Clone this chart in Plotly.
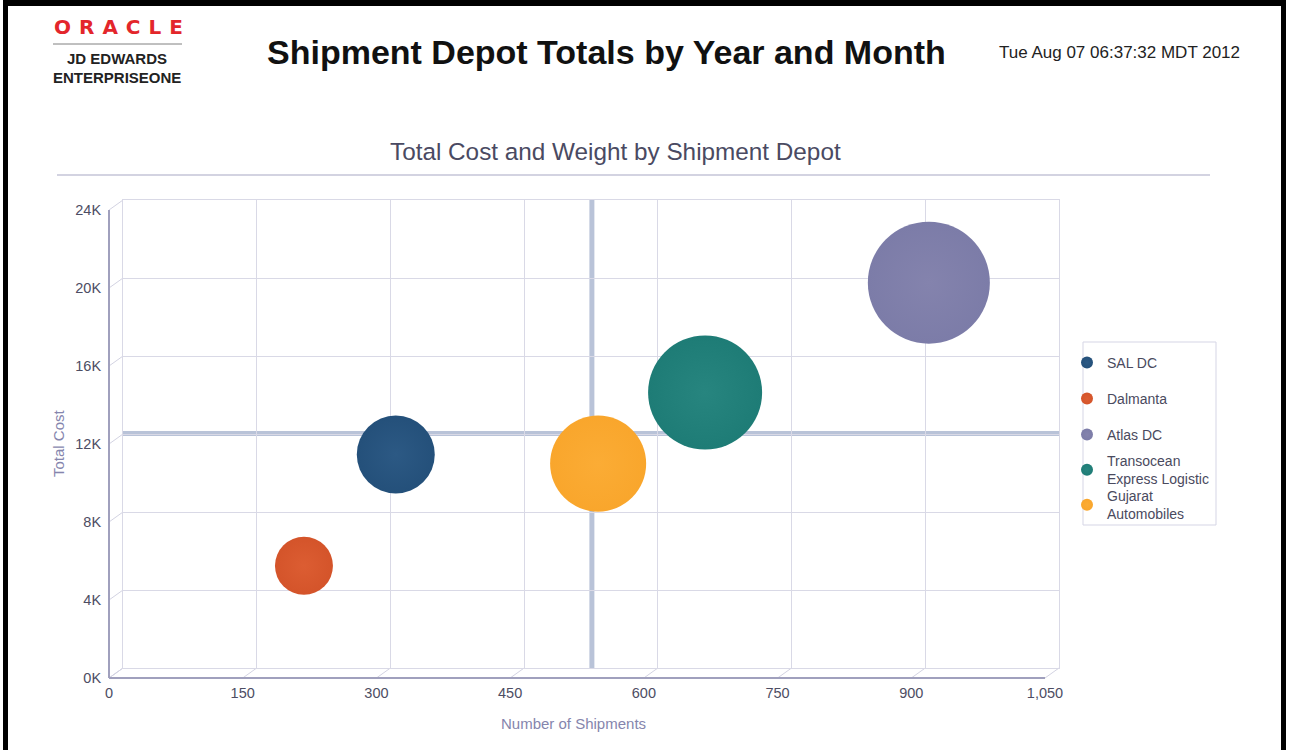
import plotly.graph_objects as go

# Depot data
depots = ["SAL DC", "Dalmanta", "Atlas DC", "Transocean<br>Express Logistic", "Gujarat<br>Automobiles"]
shipments = [306, 203, 904, 653, 533]
total_cost = [10950, 5240, 19760, 14130, 10480]
total_weight = [6080, 3360, 14880, 13000, 9220]
colors = ["#24507a", "#d4542a", "#7c7ca8", "#1e7c76", "#f9a62c"]
centers = ["#2c5984", "#dc5d32", "#8483ad", "#27857f", "#fbac35"]

x_ticks = [0, 150, 300, 450, 600, 750, 900, 1050]
y_ticks = [0, 4000, 8000, 12000, 16000, 20000, 24000]
y_tick_text = ["0K", "4K", "8K", "12K", "16K", "20K", "24K"]

avg_shipments = 526
avg_cost = 12030

X_MAX = 1050
Y_MAX = 24000

W, H = 1290, 750
L, R, T, B = 123, 231, 200, 82
PW, PH = W - L - R, H - T - B

# pseudo-3D offset of the front axes, in pixels
DXP, DYP = 14, 10
DX, DY = DXP / PW, DYP / PH

FONT = "Liberation Sans, Arial, sans-serif"


def px(x):
    return (x - L) / PW


def py(y):
    return (H - B - y) / PH


fig = go.Figure()

# legend slot centres (pixels), one small legend per depot
legend_rows = [363, 399, 435, 470, 505]
legend_ids = ["legend", "legend2", "legend3", "legend4", "legend5"]

max_d = 122
sizeref = 2.0 * max(total_weight) / (max_d ** 2)
for name, xv, yv, wv, col, cen, lid in zip(depots, shipments, total_cost, total_weight, colors, centers, legend_ids):
    fig.add_trace(
        go.Scatter(
            x=[xv],
            y=[yv],
            name=name,
            legend=lid,
            mode="markers",
            marker=dict(
                size=[wv],
                sizemode="area",
                sizeref=sizeref,
                color=col,
                opacity=1,
                gradient=dict(type="radial", color=cen),
                line=dict(width=0),
            ),
            cliponaxis=False,
        )
    )

shapes = []
# outer frame
black = dict(type="rect", xref="paper", yref="paper", fillcolor="black", line=dict(width=0), layer="above")
shapes.append(dict(black, x0=px(3), x1=px(8), y0=py(750), y1=py(0)))
shapes.append(dict(black, x0=px(3), x1=px(1286), y0=py(6), y1=py(0)))
shapes.append(dict(black, x0=px(1281), x1=px(1286), y0=py(750), y1=py(0)))
# logo rule and subtitle rule
shapes.append(dict(type="line", xref="paper", yref="paper", x0=px(53), x1=px(182), y0=py(44), y1=py(44),
                   line=dict(color="#808080", width=1)))
shapes.append(dict(type="line", xref="paper", yref="paper", x0=px(57), x1=px(1210), y0=py(175), y1=py(175),
                   line=dict(color="#d3d3e1", width=2)))
# legend box
shapes.append(dict(type="rect", xref="paper", yref="paper", x0=px(1083), x1=px(1216), y0=py(525), y1=py(342),
                   line=dict(color="#d5d5e5", width=1), fillcolor="rgba(0,0,0,0)"))
# quadrant lines at the averages
shapes.append(dict(type="line", xref="x", yref="paper", x0=avg_shipments, x1=avg_shipments, y0=0, y1=1,
                   line=dict(color="#b9c3d8", width=5), layer="between"))
shapes.append(dict(type="line", xref="paper", yref="y", x0=0, x1=1, y0=avg_cost, y1=avg_cost,
                   line=dict(color="#b9c3d8", width=5), layer="between"))
# front axes
axis_col = "#a0a0bd"
shapes.append(dict(type="line", xref="paper", yref="paper", x0=-DX, x1=-DX, y0=-DY, y1=1 - DY,
                   line=dict(color=axis_col, width=2)))
shapes.append(dict(type="line", xref="paper", yref="paper", x0=-DX, x1=1 - DX, y0=-DY, y1=-DY,
                   line=dict(color=axis_col, width=2)))
# connectors from front axes to back plane
conn = "#d3d3e2"
for v in x_ticks:
    f = v / X_MAX
    shapes.append(dict(type="line", xref="paper", yref="paper", x0=f - DX, x1=f, y0=-DY, y1=0,
                       line=dict(color=conn, width=1), layer="below"))
for v in y_ticks:
    f = v / Y_MAX
    shapes.append(dict(type="line", xref="paper", yref="paper", x0=-DX, x1=0, y0=f - DY, y1=f,
                       line=dict(color=conn, width=1), layer="below"))

annotations = [
    dict(text="Shipment Depot Totals by Year and Month", x=px(606), y=py(52),
         font=dict(family=FONT, size=34, color="#111111", weight="bold")),
    dict(text="Tue Aug 07 06:37:32 MDT 2012", x=px(1242), y=py(52), xanchor="right",
         font=dict(family=FONT, size=17, color="#222222")),
    dict(text="O\u2009\u2009R\u2009\u2009A\u2009\u2009C\u2009\u2009L\u2009\u2009E", x=px(118), y=py(27),
         font=dict(family="DejaVu Sans, sans-serif", size=20, color="#e3262b", weight="bold")),
    dict(text="JD EDWARDS", x=px(117), y=py(59),
         font=dict(family=FONT, size=15, color="#222222", weight="bold")),
    dict(text="ENTERPRISEONE", x=px(117), y=py(77),
         font=dict(family=FONT, size=15, color="#222222", weight="bold")),
    dict(text="Total Cost and Weight by Shipment Depot", x=px(615), y=py(152),
         font=dict(family=FONT, size=24.3, color="#4a4a62")),
    dict(text="Number of Shipments", x=px(573), y=py(723),
         font=dict(family=FONT, size=15, color="#8585ad")),
    dict(text="Total Cost", x=px(58), y=py(443), textangle=-90,
         font=dict(family=FONT, size=15, color="#8585ad")),
]
for a in annotations:
    a.update(xref="paper", yref="paper", showarrow=False)
    a.setdefault("xanchor", "center")
    a.setdefault("yanchor", "middle")

tick_font = dict(family=FONT, size=14.5, color="#4d4d63")
grid_col = "#d9d9e6"

legend_font = dict(family=FONT, size=14, color="#4a4a5e")
legends = {}
for lid, row in zip(legend_ids, legend_rows):
    legends[lid] = dict(
        x=px(1067),
        y=py(row),
        xanchor="left",
        yanchor="middle",
        font=legend_font,
        bgcolor="rgba(0,0,0,0)",
        borderwidth=0,
        itemsizing="constant",
    )

fig.update_layout(
    width=W,
    height=H,
    margin=dict(l=L, r=R, t=T, b=B),
    paper_bgcolor="white",
    plot_bgcolor="white",
    shapes=shapes,
    annotations=annotations,
    showlegend=True,
    **legends,
)
fig.update_xaxes(
    range=[0, X_MAX],
    tickvals=x_ticks,
    tickformat=",",
    ticks="",
    ticklabelshift=-DXP,
    ticklabelstandoff=12,
    tickfont=tick_font,
    showgrid=True,
    gridcolor=grid_col,
    zeroline=False,
    showline=True,
    linecolor=grid_col,
    mirror=True,
    fixedrange=True,
)
fig.update_yaxes(
    range=[0, Y_MAX],
    tickvals=y_ticks,
    ticktext=y_tick_text,
    ticks="",
    ticklabelshift=DYP,
    ticklabelstandoff=18,
    tickfont=tick_font,
    showgrid=True,
    gridcolor=grid_col,
    zeroline=False,
    showline=True,
    linecolor=grid_col,
    mirror=True,
    fixedrange=True,
)

fig.write_html(
    "out.html",
    config={"displayModeBar": False},
    post_script="document.body.style.margin='0px';",
)
